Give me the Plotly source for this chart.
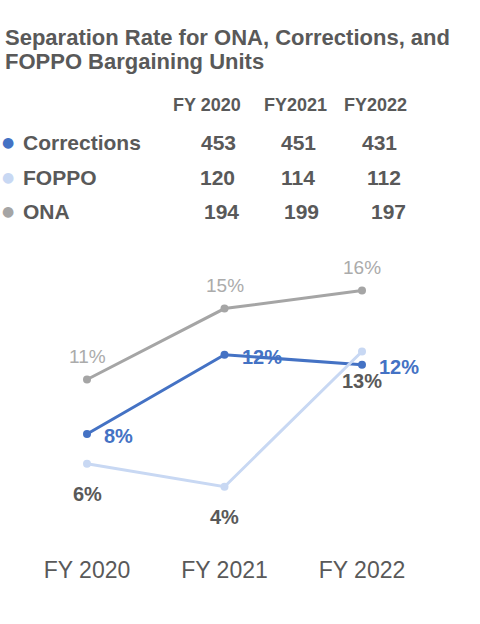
import plotly.graph_objects as go

# chart data
years = ["FY 2020", "FY 2021", "FY 2022"]
ona = [10.9, 15.2, 16.3]
corrections = [7.6, 12.4, 11.8]
foppo = [5.8, 4.4, 12.6]

# headcount table above the chart
table_years = ["FY 2020", "FY2021", "FY2022"]
units = ["Corrections", "FOPPO", "ONA"]
counts = [
    [453, 451, 431],
    [120, 114, 112],
    [194, 199, 197],
]

FONT = "Liberation Sans, Arial, sans-serif"
GREY = "#595959"
C_CORR = "#4472C4"
C_FOPPO = "#C8D8F3"
C_ONA = "#A5A5A5"

W, H = 480, 624
TOP, BOTTOM = 250, 530   # plot area rows on the page


def py(p):
    # pixel row -> paper y
    return (BOTTOM - p) / (BOTTOM - TOP)


def px(p):
    return p / W


def note(x, y, text, size, color, xanchor="center", bold=True, family=FONT):
    return dict(
        x=px(x), y=py(y), xref="paper", yref="paper", showarrow=False,
        xanchor=xanchor, yanchor="middle",
        text="<b>%s</b>" % text if bold else text,
        font=dict(family=family, size=size, color=color),
    )


fig = go.Figure()

series = [
    ("ONA", ona, C_ONA),
    ("Corrections", corrections, C_CORR),
    ("FOPPO", foppo, C_FOPPO),
]
for name, vals, col in series:
    fig.add_trace(go.Scatter(
        x=years, y=vals, name=name, mode="lines+markers",
        line=dict(color=col, width=3),
        marker=dict(color=col, size=8),
        hoverinfo="skip",
    ))

annotations = []

# data labels
label_style = {
    "ONA": dict(color="#ABABAB", bold=False, size=19, xs=[0, 0, 0], ys=23),
    "Corrections": dict(color=C_CORR, bold=True, size=20, xs=[31, 37, 37], ys=-2),
    "FOPPO": dict(color=GREY, bold=True, size=20, xs=[0, 0, 0], ys=-30),
}
for name, vals, col in series:
    st = label_style[name]
    for yr, v, xs in zip(years, vals, st["xs"]):
        txt = "%d%%" % round(v)
        annotations.append(dict(
            x=yr, y=v, xref="x", yref="y", showarrow=False,
            xanchor="center", yanchor="middle",
            text="<b>%s</b>" % txt if st["bold"] else txt,
            font=dict(family=FONT, size=st["size"], color=st["color"]),
            xshift=xs, yshift=st["ys"],
        ))

# title
annotations.append(note(3, 37, "Separation Rate for ONA, Corrections, and", 22, GREY, "left"))
annotations.append(note(3, 62, "FOPPO Bargaining Units", 22, GREY, "left"))

# table header
for yr, cx in zip(table_years, [207, 295, 375]):
    annotations.append(note(cx, 105, yr, 18, GREY))

# table rows
row_y = [142, 177, 211]
row_col = [C_CORR, C_FOPPO, C_ONA]
num_x = [[218, 298, 379], [217, 298, 384], [221, 301, 388]]
for unit, row, ry, col, xs in zip(units, counts, row_y, row_col, num_x):
    annotations.append(note(8, ry, "●", 14, col, bold=False, family="DejaVu Sans"))
    annotations.append(note(21, ry, unit, 21, GREY, "left"))
    for n, cx in zip(row, xs):
        annotations.append(note(cx, ry, n, 21, GREY))

x0 = 87        # FY 2020 column
step = 137.5   # pixels between categories

fig.update_layout(
    width=W, height=H,
    margin=dict(l=0, r=0, t=TOP, b=H - BOTTOM),
    paper_bgcolor="white", plot_bgcolor="white",
    showlegend=False,
    annotations=annotations,
    xaxis=dict(
        range=[-x0 / step, (W - x0) / step],
        showgrid=False, zeroline=False, showline=False,
        ticks="", ticklabelstandoff=24,
        tickfont=dict(family=FONT, size=23, color=GREY),
    ),
    yaxis=dict(range=[33.9 - BOTTOM / 16.5, 33.9 - TOP / 16.5], visible=False),
)

# drop the default body margin so the figure fills the window
fig.write_html(
    "out.html",
    config={"displayModeBar": False},
    post_script="document.body.style.margin = '0';",
)
